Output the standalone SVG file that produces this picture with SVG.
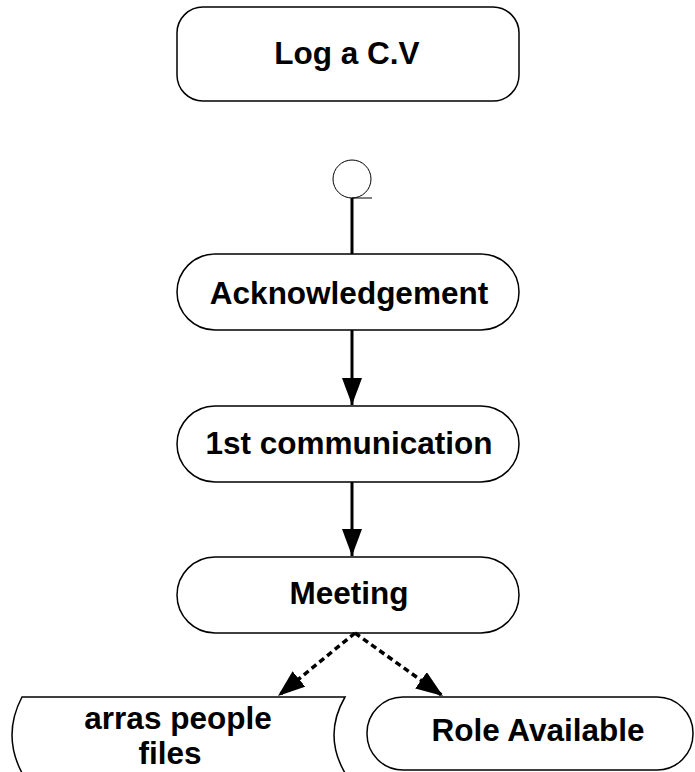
<svg xmlns="http://www.w3.org/2000/svg" width="695" height="772" viewBox="0 0 695 772">
<style>
.box{fill:#fff;stroke:#000;stroke-width:1.5}
.t{font-family:"Liberation Sans",Arial,sans-serif;font-weight:bold;font-size:31.5px;text-anchor:middle;fill:#000}
.c{stroke:#000;stroke-width:3;fill:none}
.d{stroke:#000;stroke-width:3.5;fill:none;stroke-dasharray:6,4}
</style>
<defs>
<marker id="a2" viewBox="0 0 27 20" refX="27" refY="10" markerWidth="27" markerHeight="20" orient="auto" markerUnits="userSpaceOnUse">
<path d="M0,0 L27,10 L0,20 Z" fill="#000"/>
</marker>
</defs>
<rect width="695" height="772" fill="#fff"/>
<g id="log-cv">
<rect class="box" x="177" y="7" width="342" height="94" rx="26" ry="26"/>
<text class="t" x="347" y="64">Log a C.V</text>
</g>
<g id="start">
<circle cx="352" cy="179" r="19" fill="#fff" stroke="#000" stroke-width="1"/>
<line x1="352" y1="198" x2="372" y2="198" stroke="#000" stroke-width="1"/>
</g>
<g id="acknowledgement">
<rect class="box" x="177" y="254" width="342" height="76" rx="38" ry="38"/>
<text class="t" x="349" y="304">Acknowledgement</text>
</g>
<g id="first-communication">
<rect class="box" x="177" y="406" width="342" height="76" rx="38" ry="38"/>
<text class="t" x="349" y="454">1st communication</text>
</g>
<g id="meeting">
<rect class="box" x="177" y="557" width="342" height="76" rx="38" ry="38"/>
<text class="t" x="349" y="604">Meeting</text>
</g>
<g id="arras-people-files">
<path class="box" d="M22,697 L345,697 Q323,735 345,773 L22,773 Q2,735 22,697 Z"/>
<text class="t" x="178" y="729">arras people</text>
<text class="t" x="170" y="764">files</text>
</g>
<g id="role-available">
<rect class="box" x="367" y="697" width="326" height="73" rx="36" ry="36"/>
<text class="t" x="538" y="741">Role Available</text>
</g>
<g id="connectors">
<line class="c" x1="352" y1="198" x2="352" y2="254"/>
<line class="c" x1="352" y1="330" x2="352" y2="405" marker-end="url(#a2)"/>
<line class="c" x1="352" y1="482" x2="352" y2="556" marker-end="url(#a2)"/>
<line class="d" x1="355" y1="633" x2="278" y2="696" marker-end="url(#a2)"/>
<line class="d" x1="355" y1="633" x2="443" y2="696" marker-end="url(#a2)"/>
</g>
</svg>
